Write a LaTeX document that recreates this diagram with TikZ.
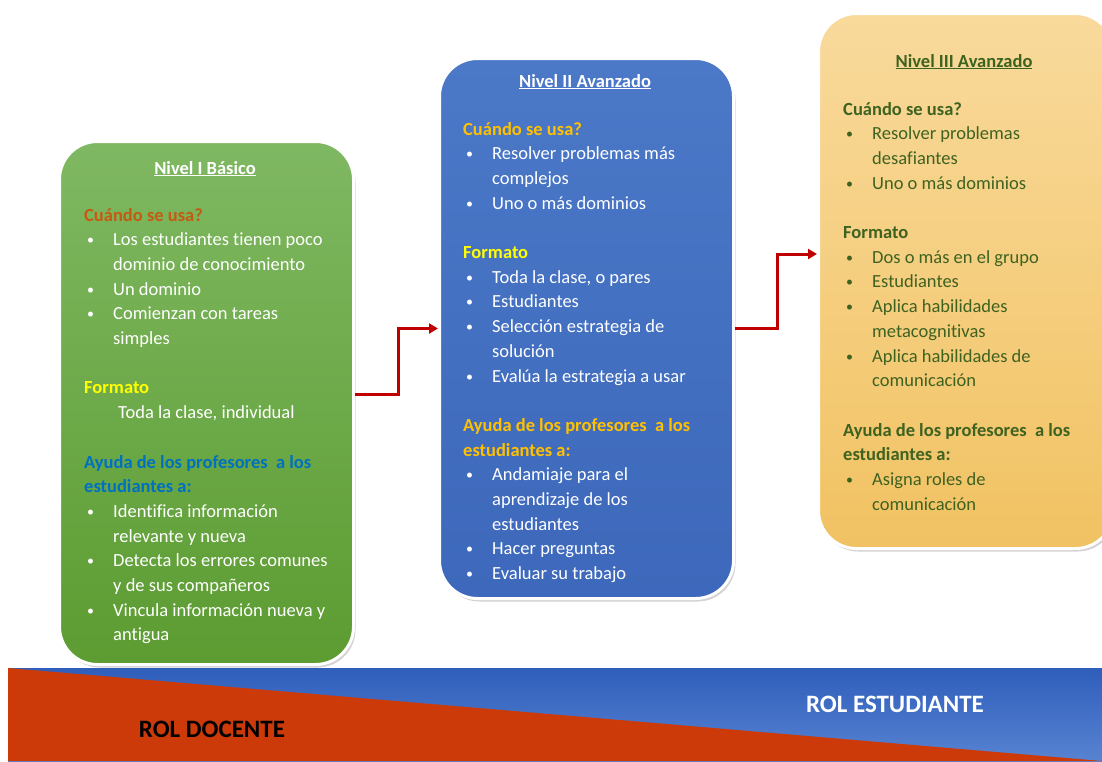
\documentclass[tikz,border=0pt]{standalone}
\usepackage{fontspec}
\setmainfont[Ligatures=CommonOff]{Carlito}
\usetikzlibrary{arrows.meta,shadows}

\definecolor{verdetop}{HTML}{7FB862}
\definecolor{verdebot}{HTML}{5C9C31}
\definecolor{azultop}{HTML}{4B78C7}
\definecolor{azulbot}{HTML}{3D68BB}
\definecolor{naranjatop}{HTML}{F9DA9C}
\definecolor{naranjabot}{HTML}{F1C262}
\definecolor{rojoflecha}{HTML}{C00000}
\definecolor{cuandoI}{HTML}{C55A11}
\definecolor{ayudaI}{HTML}{0070C0}
\definecolor{oro}{HTML}{FFC000}
\definecolor{amarillo}{HTML}{FFFF00}
\definecolor{verdeIII}{HTML}{3E6220}
\definecolor{bandatop}{HTML}{2F5EBB}
\definecolor{bandabot}{HTML}{5883D2}
\definecolor{docente}{HTML}{CC3A0A}

% encabezado y vinetas de las cajas
\newcommand{\encab}[2]{\par\noindent{\color{#1}\bfseries #2}}
\newcommand{\punto}[1]{\par\hangindent=29pt\hangafter=1\noindent\hbox to 29pt{\hspace{3pt}\raisebox{1pt}{\fontsize{14}{14}\selectfont\textbullet}\hfil}#1}
\newcommand{\blanco}{\par\vspace{24.7pt}}

\tikzset{
  caja/.style={rounded corners=38pt, draw=white, line width=3pt, anchor=north west,
    drop shadow={opacity=0.35, shadow xshift=2pt, shadow yshift=-3pt}},
  titulo/.style={anchor=base, inner sep=0pt, font=\fontsize{18.5}{24.7}\selectfont\bfseries},
  cuerpo/.style={anchor=base west, inner sep=0pt, font=\fontsize{18.5}{24.7}\selectfont},
  flecha/.style={draw=rojoflecha, line width=3pt, -{Triangle[length=9pt,width=10pt]}},
  rol/.style={font=\fontsize{25}{30}\selectfont\bfseries}
}

\begin{document}
\begin{tikzpicture}[x=1pt,y=-1pt]
  \useasboundingbox (0,0) rectangle (1102,761);

  % cajas
  \node[caja, top color=verdetop, bottom color=verdebot, minimum width=294pt, minimum height=523pt] (basico) at (58,140) {};
  \node[caja, top color=azultop, bottom color=azulbot, minimum width=294pt, minimum height=540pt] (avanzado) at (438,57) {};
  \node[caja, top color=naranjatop, bottom color=naranjabot, minimum width=295pt, minimum height=535pt] (experto) at (817,12) {};

  % Nivel I
  \node[titulo, text=white] (tituloI) at (205,174) {\underline{Nivel I Básico}};
  \node[cuerpo, text=white] (textoI) at (84,221) {\parbox[t]{300pt}{%
    \encab{cuandoI}{Cuándo se usa?}
    \punto{Los estudiantes tienen poco\newline dominio de conocimiento}
    \punto{Un dominio}
    \punto{Comienzan con tareas\newline simples}
    \blanco
    \encab{amarillo}{Formato}
    \par\noindent\hspace*{34pt}Toda la clase, individual
    \blanco
    \encab{ayudaI}{Ayuda de los profesores\ \ a los\newline estudiantes a:}
    \punto{Identifica información\newline relevante y nueva}
    \punto{Detecta los errores comunes\newline y de sus compañeros}
    \punto{Vincula información nueva y\newline antigua}}};

  % Nivel II
  \node[titulo, text=white] (tituloII) at (585,87) {\underline{Nivel II Avanzado}};
  \node[cuerpo, text=white] (textoII) at (463,135) {\parbox[t]{300pt}{%
    \encab{oro}{Cuándo se usa?}
    \punto{Resolver problemas más\newline complejos}
    \punto{Uno o más dominios}
    \blanco
    \encab{amarillo}{Formato}
    \punto{Toda la clase, o pares}
    \punto{Estudiantes}
    \punto{Selección estrategia de\newline solución}
    \punto{Evalúa la estrategia a usar}
    \blanco
    \encab{oro}{Ayuda de los profesores\ \ a los\newline estudiantes a:}
    \punto{Andamiaje para el\newline aprendizaje de los\newline estudiantes}
    \punto{Hacer preguntas}
    \punto{Evaluar su trabajo}}};

  % Nivel III
  \node[titulo, text=verdeIII] (tituloIII) at (964,67) {\underline{Nivel III Avanzado}};
  \node[cuerpo, text=verdeIII] (textoIII) at (843,115) {\parbox[t]{300pt}{%
    \encab{verdeIII}{Cuándo se usa?}
    \punto{Resolver problemas\newline desafiantes}
    \punto{Uno o más dominios}
    \blanco
    \encab{verdeIII}{Formato}
    \punto{Dos o más en el grupo}
    \punto{Estudiantes}
    \punto{Aplica habilidades\newline metacognitivas}
    \punto{Aplica habilidades de\newline comunicación}
    \blanco
    \encab{verdeIII}{Ayuda de los profesores\ \ a los\newline estudiantes a:}
    \punto{Asigna roles de\newline comunicación}}};

  % flechas
  \draw[flecha] ([yshift=9pt]basico.east) -- ++(43,0) |- (avanzado.west);
  \draw[flecha] (avanzado.east) -- ++(42,0) |- ([yshift=27pt]experto.west);

  % banda inferior
  \shade[top color=bandatop, bottom color=bandabot] (8,668) rectangle (1102,761);
  \fill[docente] (8,668) -- (1102,761) -- (8,761) -- cycle;
  \node[rol, text=black] (rolDocente) at (212,729) {ROL DOCENTE};
  \node[rol, text=white] (rolEstudiante) at (895,704) {ROL ESTUDIANTE};
\end{tikzpicture}
\end{document}
